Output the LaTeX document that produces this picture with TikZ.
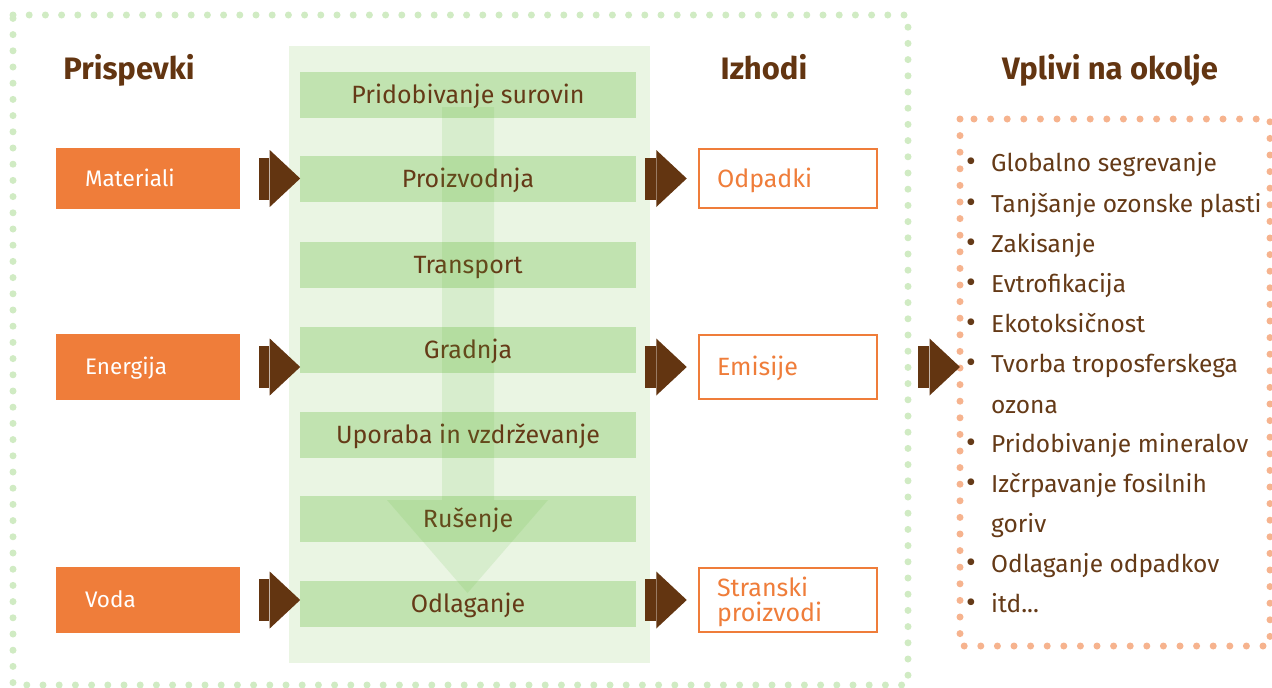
\documentclass[tikz,border=0pt]{standalone}
\usepackage{fontspec}
\setmainfont{Fira Sans}
\usetikzlibrary{calc}
\definecolor{mybrown}{HTML}{633511}
\definecolor{txtbrown}{HTML}{653A17}
\definecolor{myorange}{HTML}{EF7D3A}
\definecolor{barfill}{HTML}{C1E3B0}
\definecolor{panelfill}{HTML}{EAF5E3}
\definecolor{gdots}{HTML}{D0EBC3}
\definecolor{odots}{HTML}{F6B38E}
\definecolor{varrowc}{HTML}{5EB93A}
\tikzset{
  greendots/.style={draw=gdots,line width=7pt,line cap=round,dash pattern=on 0pt off 16.2pt},
  orangedots/.style={draw=odots,line width=7pt,line cap=round,dash pattern=on 0pt off 16.6pt},
  stagebox/.style={fill=barfill,minimum width=336pt,minimum height=46pt,inner sep=0pt,text=txtbrown,font=\fontsize{25}{28}\selectfont,text height=17.25pt,text depth=0pt},
  inbox/.style={fill=myorange,minimum width=184pt,inner xsep=29pt,inner ysep=0pt,text width=126pt,align=left,text=white,font=\fontsize{22.5}{26}\selectfont,text height=15.5pt,text depth=0pt},
  outbox/.style={draw=myorange,line width=2.5pt,fill=white,minimum width=178pt,inner xsep=17pt,inner ysep=0pt,text width=142pt,align=left,text=myorange,font=\fontsize{25}{25}\selectfont,text height=17.25pt,text depth=0pt},
  headtxt/.style={text=mybrown,font=\fontsize{31}{34}\selectfont\bfseries,inner sep=0pt,text height=21.4pt,text depth=0pt},
  itemtxt/.style={anchor=west,text=txtbrown,inner sep=0pt,font=\fontsize{24.5}{28}\selectfont,text height=16.9pt,text depth=0pt},
  bullettxt/.style={text=txtbrown,inner sep=0pt,font=\fontsize{30}{32}\selectfont},
  barrow/.pic={
    \fill[mybrown] (-41.7,-21) rectangle (-31,21);
    \fill[mybrown] (-30.5,-28.5) -- (0,0) -- (-30.5,28.5) -- cycle;
  }
}
\begin{document}
\begin{tikzpicture}[x=1pt,y=-1pt]
\useasboundingbox (0,0) rectangle (1272,688);
\fill[white] (0,0) rectangle (1272,688);

% outer dotted frame
\draw[greendots] (13,15) -- (908,15) -- (908,685) -- (13,685) -- cycle;

% middle panel
\fill[panelfill] (289,46) rectangle (650,663);

% stages
\node[stagebox] (s1) at (468,95) {Pridobivanje surovin};
\node[stagebox] (s2) at (468,179) {Proizvodnja};
\node[stagebox] (s3) at (468,265) {Transport};
\node[stagebox] (s4) at (468,350) {Gradnja};
\node[stagebox] (s5) at (468,435) {Uporaba in vzdrževanje};
\node[stagebox] (s6) at (468,519) {Rušenje};
\node[stagebox] (s7) at (468,604) {Odlaganje};

% big translucent downward arrow
\fill[varrowc,fill opacity=0.13] (442,107) -- (494,107) -- (494,500) -- (548,500) -- (467.5,593) -- (387,500) -- (442,500) -- cycle;

% headings
\node[headtxt] (h1) at (129,69) {Prispevki};
\node[headtxt] (h2) at (764,69) {Izhodi};
\node[headtxt] (h3) at (1110,69) {Vplivi na okolje};

% inputs
\node[inbox,minimum height=61pt] (mat) at (148,178.5) {Materiali};
\node[inbox,minimum height=66pt] (ene) at (148,367) {Energija};
\node[inbox,minimum height=66pt] (vod) at (148,600) {Voda};

\pic at ($(mat.east)+(60,0)$) {barrow};
\pic at ($(ene.east)+(60,0)$) {barrow};
\pic at ($(vod.east)+(60,0)$) {barrow};

% outputs
\node[outbox,minimum height=59pt] (odp) at (788,178.5) {Odpadki};
\node[outbox,minimum height=64pt] (emi) at (788,367) {Emisije};
\node[outbox,minimum height=64pt,text depth=25pt] (str) at (788,600) {Stranski\\proizvodi};

\pic at ($(odp.west)+(-11,0)$) {barrow};
\pic at ($(emi.west)+(-11,0)$) {barrow};
\pic at ($(str.west)+(-11,0)$) {barrow};

% impacts box
\draw[orangedots] (960,119) rectangle (1270,646);
\coordinate (imptip) at (960,367);
\pic at (imptip) {barrow};

\node[itemtxt] (i1) at (991,163) {Globalno segrevanje};
\node[itemtxt] (i2) at (991,204) {Tanjšanje ozonske plasti};
\node[itemtxt] (i3) at (991,244) {Zakisanje};
\node[itemtxt] (i4) at (991,284) {Evtrofikacija};
\node[itemtxt] (i5) at (991,324) {Ekotoksičnost};
\node[itemtxt] (i6) at (991,364) {Tvorba troposferskega};
\node[itemtxt] (i6b) at (991,405) {ozona};
\node[itemtxt] (i7) at (991,444) {Pridobivanje mineralov};
\node[itemtxt] (i8) at (991,484) {Izčrpavanje fosilnih};
\node[itemtxt] (i8b) at (991,524) {goriv};
\node[itemtxt] (i9) at (991,564) {Odlaganje odpadkov};
\node[itemtxt] (i10) at (991,604) {itd...};
\foreach \n in {i1,i2,i3,i4,i5,i6,i7,i8,i9,i10}{
  \node[bullettxt] at ($(\n.west)+(-20,2)$) {•};
}
\end{tikzpicture}
\end{document}
